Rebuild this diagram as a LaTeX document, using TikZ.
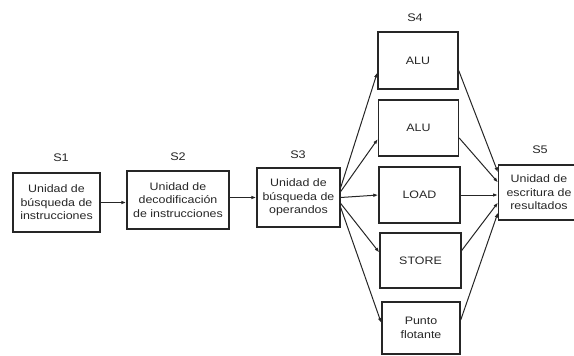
\documentclass[tikz,border=0pt]{standalone}
\usepackage{fontspec}
\setmainfont{Liberation Sans}[FakeStretch=1.15]
\usetikzlibrary{arrows.meta}
\begin{document}
\begin{tikzpicture}[x=1pt,y=-1pt,
  box/.style={draw=black!85,line width=1.4pt,rectangle,inner sep=0pt,align=center,
    font=\fontsize{10.8}{13.5}\selectfont,text=black!85},
  txt/.style={inner sep=0pt,align=center,font=\fontsize{10.8}{13.5}\selectfont,text=black!85},
  lbl/.style={font=\fontsize{11}{13}\selectfont,text=black!85},
  conn/.style={draw=black!85,line width=1pt,-{Latex[length=5pt,width=3.6pt]}}]
\useasboundingbox (0,0) rectangle (574,356);
% stage 1-3
\node[box,minimum width=87pt,minimum height=59pt] (s1) at (56.5,202.5) {Unidad de\\búsqueda de\\instrucciones};
\node[lbl] (l1) at (61,158) {S1};
\node[box,minimum width=102pt,minimum height=58pt] (s2) at (178,200) {Unidad de\\decodificación\\de instrucciones};
\node[lbl] (l2) at (178,157) {S2};
\node[box,minimum width=83pt,minimum height=59pt] (s3) at (298.5,197.5) {Unidad de\\búsqueda de\\operandos};
\node[lbl] (l3) at (298,155) {S3};
% stage 4
\node[box,minimum width=80pt,minimum height=57pt] (a1) at (418,60.5) {ALU};
\node[lbl] (l4) at (415,18) {S4};
\node[box,minimum width=80pt,minimum height=56pt] (a2) at (418.5,128) {ALU};
\node[box,minimum width=81pt,minimum height=56pt] (ld) at (419.5,195) {LOAD};
\node[box,minimum width=81pt,minimum height=55pt] (st) at (420.5,260.5) {STORE};
\node[box,minimum width=78pt,minimum height=52pt] (pf) at (421,328) {Punto\\flotante};
% stage 5
\node[box,minimum width=110pt,minimum height=55pt,anchor=west] (s5) at (498,192.5) {};
\node[txt] (t5) at (539,192.5) {Unidad de\\escritura de\\resultados};
\node[lbl] (l5) at (540,150) {S5};
% connectors
\draw[conn] (s1.east) -- (s2.west |- s1.east);
\draw[conn] (s2.east |- s3.west) -- (s3.west);
\draw[conn] ([yshift=10pt]s3.east) -- ([yshift=-12pt]a1.west);
\draw[conn] ([yshift=6pt]s3.east) -- ([yshift=-11pt]a2.west);
\draw[conn] (s3.east) -- (ld.west);
\draw[conn] ([yshift=-6pt]s3.east) -- ([yshift=8pt]st.west);
\draw[conn] ([yshift=-10pt]s3.east) -- ([yshift=5pt]pf.west);
\draw[conn] ([yshift=-10pt]a1.east) -- ([yshift=20pt]s5.west);
\draw[conn] ([yshift=-10pt]a2.east) -- ([yshift=10pt]s5.west);
\draw[conn] (ld.east) -- (s5.west |- ld.east);
\draw[conn] ([yshift=10pt]st.east) -- ([yshift=-10pt]s5.west);
\draw[conn] ([yshift=8pt]pf.east) -- ([yshift=-20pt]s5.west);
\end{tikzpicture}
\end{document}
